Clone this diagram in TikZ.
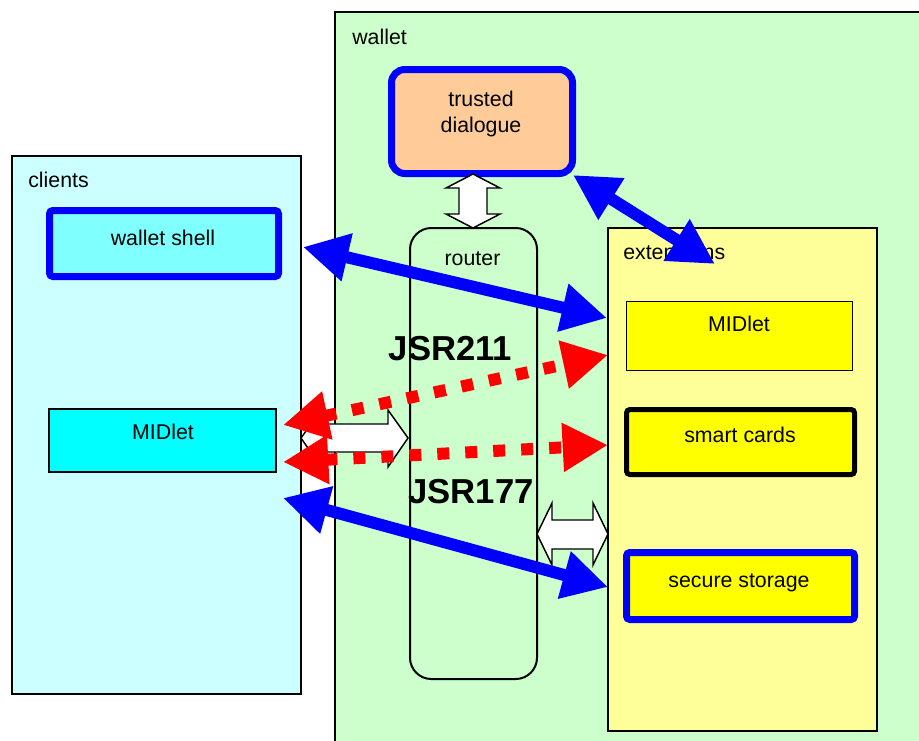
\documentclass[tikz,border=0pt]{standalone}
\usepackage{fontspec}
\setmainfont{Liberation Sans}
\usetikzlibrary{arrows.meta,fit}
\definecolor{wgreen}{HTML}{CCFFCC}
\definecolor{ccyan}{HTML}{CCFFFF}
\definecolor{scyan}{HTML}{80FFFF}
\definecolor{fcyan}{HTML}{00FFFF}
\definecolor{peach}{HTML}{FFCC99}
\definecolor{lyellow}{HTML}{FFFF99}
\definecolor{fyellow}{HTML}{FFFF00}
\definecolor{pblue}{HTML}{0000FF}
\definecolor{pred}{HTML}{FF0000}
\begin{document}
\begin{tikzpicture}[x=0.75pt,y=-0.75pt,
  box/.style={draw=black, inner sep=0pt, outer sep=0pt, line width=1.5pt},
  bluebox/.style={draw=pblue, inner sep=0pt, outer sep=0pt, line width=5.25pt, rounded corners=2.5pt},
  lbl/.style={font=\fontsize{16}{19}\selectfont, inner sep=0pt},
  jsr/.style={font=\fontsize{26}{30}\selectfont\bfseries, inner sep=0pt},
  bluearrow/.style={draw=pblue, line width=9pt, {Triangle[length=34pt,width=34.5pt]}-{Triangle[length=34pt,width=34.5pt]}},
  redarrow/.style={draw=pred, line width=9pt, dash pattern=on 9pt off 12pt, {Triangle[length=34pt,width=34.5pt]}-{Triangle[length=34pt,width=34.5pt]}},
  blockarrow/.style={draw=black, fill=white, line width=1.1pt, line join=miter}]

\useasboundingbox (0,0) rectangle (919,740);
\clip (0,0) rectangle (919,740);

% wallet
\node[box, fill=wgreen, line width=1.1pt, fit={(335,12) (935,760)}] (wallet) {};
\node[lbl, anchor=base west] (walletT) at (352,44) {wallet};

% trusted dialogue
\node[bluebox, fill=peach, rounded corners=10pt, fit={(391.5,69.5) (572.5,173.5)}] (td) {};
\node[lbl, anchor=base] (tdT1) at (481,106) {trusted};
\node[lbl, anchor=base] (tdT2) at (481,132) {dialogue};

% router
\node[box, line width=1.5pt, rounded corners=16pt, fit={(410,228) (537,679)}] (router) {};
\node[lbl, anchor=base] (routerT) at (472.5,265) {router};

% extensions
\node[box, fill=lyellow, fit={(608,228) (877,731)}] (ext) {};
\node[lbl, anchor=base west] (extT) at (623,259) {extensions};
\node[box, fill=fyellow, line width=1.1pt, fit={(626.5,301.5) (852.5,370.5)}] (emid) {};
\node[lbl, anchor=base] (emidT) at (739,331) {MIDlet};
\node[box, fill=fyellow, line width=3.75pt, rounded corners=2.5pt, fit={(626.5,409.5) (854.5,474.5)}] (sc) {};
\node[lbl, anchor=base] (scT) at (740,442) {smart cards};
\node[bluebox, fill=fyellow, fit={(626.5,552.5) (854.5,619.5)}] (ss) {};
\node[lbl, anchor=base] (ssT) at (739,587) {secure storage};

% white block arrows
\draw[blockarrow] (473,174) -- (500,188) -- (487,188) -- (487,214) -- (500,214) -- (473,228)
  -- (446,214) -- (459,214) -- (459,188) -- (446,188) -- cycle;
\draw[blockarrow] (537,534) -- (552,503) -- (552,520) -- (593,520) -- (593,503) -- (608,534)
  -- (593,565) -- (593,549) -- (552,549) -- (552,565) -- cycle;
\draw[blockarrow] (301,438) -- (321,410) -- (321,424) -- (388,424) -- (388,410) -- (408,438)
  -- (388,467) -- (388,452) -- (321,452) -- (321,467) -- cycle;

% clients
\node[box, fill=ccyan, fit={(12,156) (301,694)}] (clients) {};
\node[lbl, anchor=base west] (clientsT) at (28,187) {clients};
\node[bluebox, fill=scyan, fit={(49.5,210.5) (278.5,276.5)}] (ws) {};
\node[lbl, anchor=base] (wsT) at (163,245) {wallet shell};
\node[box, fill=fcyan, fit={(49,409) (276,472)}] (cmid) {};
\node[lbl, anchor=base] (cmidT) at (163,439) {MIDlet};

% JSR labels
\node[jsr, anchor=base] (jsr211) at (450.5,360) {JSR211};
\node[jsr, anchor=base] (jsr177) at (471,503) {JSR177};

% connector end points
\coordinate (wsR) at (303,247);
\coordinate (emidL) at (607,318);
\coordinate (tdR) at (573,175);
\coordinate (extTop) at (715,264);
\coordinate (cmidR1) at (283,425);
\coordinate (emidL2) at (608,355);
\coordinate (cmidR2) at (283,462);
\coordinate (scL) at (608,445);
\coordinate (cmidR3) at (283,498);
\coordinate (ssL) at (608,587);

% red dotted connectors
\draw[redarrow] (cmidR1) -- (emidL2);
\draw[redarrow] (cmidR2) -- (scL);

% blue connectors
\draw[bluearrow] (wsR) -- (emidL);
\draw[bluearrow] (tdR) -- (extTop);
\draw[bluearrow] (cmidR3) -- (ssL);
\end{tikzpicture}
\end{document}
